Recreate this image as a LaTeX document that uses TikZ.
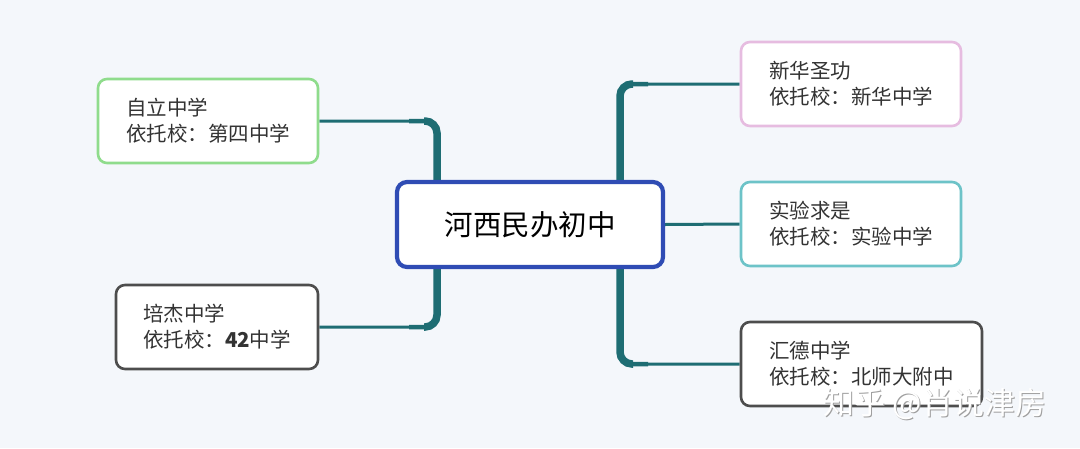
\documentclass[tikz,border=0pt]{standalone}
\usepackage{fontspec}
\setmainfont{Noto Sans CJK SC}
\usetikzlibrary{calc,backgrounds}
\definecolor{bgc}{HTML}{F4F7FB}
\definecolor{cblue}{HTML}{2F4CB4}
\definecolor{cgreen}{HTML}{8FDC8C}
\definecolor{cpink}{HTML}{E6BCE0}
\definecolor{cteal}{HTML}{6DC3C8}
\definecolor{cgray}{HTML}{4D4D4D}
\definecolor{conn}{HTML}{1E6D73}
\definecolor{txt}{HTML}{333333}
\begin{document}
\begin{tikzpicture}[x=1pt,y=-1pt,
  sidebox/.style={draw, fill=white, line width=2.6pt, rounded corners=9pt,
    minimum height=84pt, align=left, text=txt, inner sep=0pt,
    font=\fontsize{20.5}{26}\selectfont},
  centerbox/.style={draw=cblue, fill=white, line width=4.2pt, rounded corners=10pt,
    minimum width=266pt, minimum height=85pt, inner sep=0pt,
    font=\fontsize{28.5}{34}\selectfont},
  thinbr/.style={draw=conn, line width=3pt, rounded corners=12pt},
  midbr/.style={draw=conn, line width=4.5pt, rounded corners=12pt},
  thickbr/.style={draw=conn, line width=7.5pt, rounded corners=12pt},
  wmark/.style={font=\fontsize{31}{36}\selectfont, inner sep=0pt}
]
\useasboundingbox (0,0) rectangle (1080,448);

\node[centerbox] (c) at (530,224.5) {河西民办初中};
\node[sidebox, draw=cgreen, minimum width=220pt] (lt) at (208,121) {自立中学\\依托校：第四中学};
\node[sidebox, draw=cgray, minimum width=202pt] (lb) at (217,327) {培杰中学\\依托校：\textbf{42}中学};
\node[sidebox, draw=cpink, minimum width=220pt] (rt) at (851,84) {新华圣功\\依托校：新华中学};
\node[sidebox, draw=cteal, minimum width=220pt] (rm) at (851,224) {实验求是\\依托校：实验中学};
\node[sidebox, draw=cgray, minimum width=241pt] (rb) at (861.5,364) {汇德中学\\依托校：北师大附中};

\coordinate (lx) at (437,0);
\coordinate (rx) at (620,0);

\begin{scope}[on background layer]
  \fill[bgc] (0,0) rectangle (1080,448);
  % left top
  \draw[thinbr] (c.center -| lx) |- (lt.east);
  \draw[midbr] (c.center -| lx) |- ($(lt.east -| lx)+(-28,0)$);
  \draw[thickbr] (c.center -| lx) |- ($(lt.east -| lx)+(-13,0)$);
  % left bottom
  \draw[thinbr] (c.center -| lx) |- (lb.east);
  \draw[midbr] (c.center -| lx) |- ($(lb.east -| lx)+(-28,0)$);
  \draw[thickbr] (c.center -| lx) |- ($(lb.east -| lx)+(-13,0)$);
  % right top
  \draw[thinbr] (c.center -| rx) |- (rt.west);
  \draw[midbr] (c.center -| rx) |- ($(rt.west -| rx)+(28,0)$);
  \draw[thickbr] (c.center -| rx) |- ($(rt.west -| rx)+(13,0)$);
  % right bottom
  \draw[thinbr] (c.center -| rx) |- (rb.west);
  \draw[midbr] (c.center -| rx) |- ($(rb.west -| rx)+(28,0)$);
  \draw[thickbr] (c.center -| rx) |- ($(rb.west -| rx)+(13,0)$);
  % right middle
  \draw[thinbr] (c.east) -- (rm.west);
\end{scope}

\node[wmark, text=gray!75] (wms) at (936,405) {知乎 @肖说津房};
\node[wmark, text=white] (wm) at (935,404) {知乎 @肖说津房};
\end{tikzpicture}
\end{document}
